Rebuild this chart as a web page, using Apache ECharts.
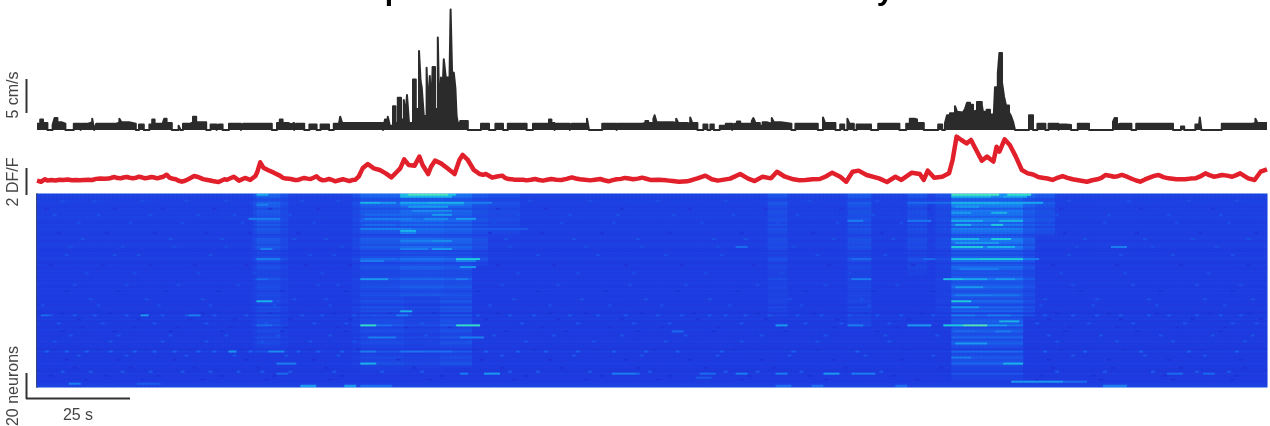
<!DOCTYPE html>
<html><head><meta charset="utf-8">
<style>html,body{margin:0;padding:0;background:#fff}#c{width:1270px;height:426px}#c canvas{filter:blur(.6px)}</style>
<script src="https://cdn.jsdelivr.net/npm/echarts@6/dist/echarts.min.js"></script>
</head><body><div id="c"></div>
<script>
// running speed, cm/s, held from each time (s) until the next
const speedPairs = [[0,.9],[.8,1.5],[1.5,1],[2.6,0],[3.9,.7],[4.4,1.7],[5.1,1.1],[6.1,.9],[7.1,0],[9.2,.9],[10.9,0],[11.2,.9],[12.8,1.1],[13.8,1.6],[14.3,0],[14.8,.9],[19.9,1.1],[20.6,1.6],[21.1,1.1],[23,.9],[24.7,0],[25.5,.8],[26.7,0],[28.1,.8],[28.8,1.5],[29.4,.9],[31.4,1.1],[31.8,1.6],[32.4,1],[33.7,0],[35.4,.6],[35.9,0],[36.5,.9],[38.3,1.1],[39,1.9],[39.8,1.1],[42.3,0],[43.4,.8],[44.9,0],[45.4,.8],[46.4,0],[48,.9],[51,0],[51.5,.9],[58.7,0],[60,1],[60.7,1.5],[61.4,1],[62.8,.8],[63.5,1],[64.3,0],[64.8,.9],[66.8,0],[68.1,.8],[69.9,0],[70.9,.8],[73,0],[74.2,.9],[75.5,1],[75.8,1.9],[76.3,1],[86.5,0],
[87,1.5],[87.7,1.9],[88.2,.6],[89,3.4],[89.6,1],[90.2,4.6],[91,1.5],[91.7,4.3],[92.1,2],[92.5,5],[93,1],[94,7.2],[94.7,3],[95.5,11.3],[95.9,7],[96.2,6],[96.7,2],[97.4,8.9],[97.7,3],[98.2,7.7],[98.6,3],[98.9,9],[99.5,3],[100.2,13.2],[100.6,2],[101,7.5],[101.2,3],[101.7,10.1],[102.2,7.5],[102.8,7.4],[103,3],[103.4,17.2],[103.8,7.5],[104.2,8.2],[104.6,6],[104.9,2],[105.2,1],[105.8,1.3],[107.7,0],
[111,.9],[113,0],[114.6,.9],[116.5,0],[117.7,.9],[122.4,0],[124,.9],[128,1.5],[128.6,1],[129.4,0],[129.8,.9],[133.2,0],[133.7,.9],[136.9,.9],[137.5,1.6],[138,0],[141.3,.9],[144.9,0],[145.2,.9],[151.3,1],[152.1,1.3],[152.8,1],[154.1,1.6],[154.4,2.1],[154.9,1.1],[159,1],[159.8,1.6],[160.3,1],[162.5,.9],[163.3,1.8],[163.8,1],[165.1,0],[166.6,.8],[167.6,0],[168.35,.8],[169.2,0],[170.7,.6],[172.2,.9],[173.8,0],[174.3,.9],[175,1.2],[175.8,.9],[178.7,1.3],[179.1,1.7],[179.6,1],[180.7,.6],[181.4,1.1],[182.4,.9],[183.7,1.7],[184.2,1.1],[186,.9],[188.6,0],[189.6,.9],[195.2,0],[196.5,1.8],[197,1],[199.6,0],[200.8,.8],[201.8,0],[202.6,1.6],[203.1,.9],[204.2,0],[204.9,.8],[208.5,0],[210.3,.9],[215.6,0],[217.3,.9],[218.2,1.6],[219.4,1.5],[220,1],[221.7,0],[225.3,.8],[226.3,0],
[227,1],[227.5,2.1],[228.25,2.4],[229.5,3.4],[230,2.6],[230.25,2.5],[231.5,2.4],[232,3],[232.5,3.9],[233.25,3.6],[234,2.6],[234.5,2.8],[235,4],[236.2,3.6],[236.5,2.6],[237.4,2.9],[238.25,2.2],[239.2,2.2],[239.5,6.1],[240.2,8.1],[240.6,11],[241.25,6.8],[241.75,4.8],[242.25,3.5],[243,2.5],[243.5,2],[244,1.2],[244.5,0],
[248,2.1],[249,0],[250.1,.9],[252.1,0],[252.9,.9],[255.4,0],[255.9,.8],[257.2,.7],[258.5,0],[260.2,.9],[263,0],[269,1.2],[269.4,1.7],[270,1],[270.5,.6],[270.7,.9],[273.6,0],[274.8,.9],[284,0],[286,.5],[286.8,0],[289.6,.8],[290.4,.2],[290.7,1.8],[291.1,0],[296.2,.9],[303.9,1],[304.6,1.6],[305.1,1],[307.5,1]];

// population DF/F trace, [time s, value]
const dffPairs = [[0,.99],[1,.91],[2,1.09],[3.1,.94],[4.1,1.09],[5.1,.94],[6.1,1.11],[7.1,1.01],[8.2,1.11],[9.2,.96],[10.2,1.09],[11.2,.96],[12.2,1.09],[13.3,.99],[14.3,1.16],[15.3,1.06],[16.3,1.21],[17.9,1.14],[19.4,1.26],[20.9,1.16],[22.4,1.26],[24,1.16],[25.5,1.28],[27,1.16],[28.6,1.26],[30.1,1.16],[31.6,1.28],[32.4,1.43],[33.2,1.19],[34.7,1.09],[36.2,.91],[37.8,1.09],[39.3,1.33],[40.8,1.19],[42.3,1.06],[43.9,.96],[45.4,.89],[46.9,1.09],[48,.99],[49.2,1.28],[50.5,.99],[52,1.19],[53.3,1.04],[54.6,1.33],[55.1,1.65],[55.8,2.35],[56.6,1.95],[57.7,1.78],[59.2,1.58],[60.7,1.36],[62.2,1.14],[63.8,1.09],[65.3,1.04],[66.8,1.19],[68.4,1.11],[69.9,1.31],[71.4,1.01],[73,1.11],[74.5,.94],[76.5,1.09],[78.1,.96],[79.6,1.06],[80.4,1.28],[81.4,1.9],[82.7,2.22],[84.2,1.9],[85.7,1.78],[87.2,1.53],[88.6,1.23],[90,1.65],[90.8,1.9],[91.8,2.57],[92.9,2.15],[94.4,2.1],[95.6,2.77],[96.4,2.15],[97.8,1.48],[98.5,2.02],[99.5,2.47],[101,2.27],[102.6,1.9],[104.4,1.48],[105.6,2.52],[106.4,2.89],[107.7,2.52],[109.2,1.78],[110.7,1.48],[112.2,1.48],[113.8,1.21],[116.3,1.36],[117.9,1.11],[119.4,1.06],[122.4,1.01],[124.5,1.11],[126.5,.99],[128.6,1.11],[131.1,1.04],[133.7,1.23],[135.7,1.09],[138.3,1.01],[140.8,1.11],[142.9,.94],[144.9,1.09],[147,1.19],[149,1.09],[151.3,1.21],[153.35,1.04],[157.4,1.01],[160.5,.91],[162.5,.94],[165.1,1.16],[167.1,1.36],[168.7,1.09],[170.2,.99],[173.3,1.14],[175.8,1.48],[177.8,1.14],[179.4,.96],[181.4,1.28],[183.5,1.16],[185,1.65],[187,1.28],[189.1,1.09],[192.1,1.04],[195.7,1.11],[198.8,1.58],[200.8,1.28],[202.3,.91],[203.9,1.65],[205.4,1.73],[207.4,1.41],[210.5,1.16],[212.5,.89],[214.6,1.28],[216.1,1.04],[218.7,1.58],[220.7,1.48],[221.7,1.04],[222.7,1.73],[224.3,1.21],[226.3,1.28],[228,1.53],[228.9,2.52],[229.9,4.25],[231.1,4],[232.4,3.75],[233.5,4],[234.8,3.26],[236.2,2.47],[237.5,2.77],[239.1,2.4],[239.9,3.5],[240.6,3.14],[241.9,4.05],[243.2,3.63],[244.7,2.77],[246.2,1.78],[247.7,1.53],[249.3,1.41],[251.3,1.21],[253.9,1.04],[256.4,1.33],[258.9,1.09],[262.5,.91],[265.1,1.09],[267.1,1.41],[269.2,1.28],[271.2,1.41],[273.8,1.11],[275.8,.91],[278.3,1.23],[280.4,1.41],[282.9,1.16],[287,1.09],[289.6,1.16],[292.1,1.53],[294.2,1.28],[296.2,1.41],[298.8,1.28],[300.8,1.53],[302.8,1.16],[304.4,1.04],[305.9,1.65],[307.5,1.83]];
// finer wiggles of the DF/F trace in its quiet stretches
const dffWiggles = [[.5,1.05],[1.5,1],[2.6,1],[3.6,1.03],[4.6,1],[5.6,1.05],[6.6,1.03],[7.7,1.08],[8.7,1.02],[9.7,1.04],[10.7,1.02],[11.7,1.04],[12.8,1.05],[13.8,1.04],[14.8,1.12],[15.8,1.15],[16.9,1.13],[18.6,1.2],[20.1,1.18],[21.6,1.22],[23.2,1.2],[24.7,1.2],[26.2,1.24],[27.8,1.2],[29.3,1.22],[30.8,1.22],[34,1.13],[35.4,.98],[37,.98],[38.5,1.2],[40,1.28],[41.5,1.1],[43,1.02],[44.6,.92],[46.2,1],[47.5,1.05],[61.5,1.2],[63,1.13],[64.5,1.03],[66,1.12],[67.6,1.14],[69.1,1.2],[70.6,1.12],[72.2,1.04],[73.7,1.05],[75.5,1.02],[77.3,1.03],[78.8,1.03],[111.5,1.42],[113,1.35],[115,1.3],[117,1.2],[118.6,1.1],[120.5,1.05],[121.5,1.06],[123.5,1.05],[125.5,1.04],[127.5,1.05],[129.8,1.06],[132.4,1.12],[134.7,1.15],[137,1.06],[139.5,1.06],[141.8,1.02],[143.9,1.03],[146,1.12],[148,1.15],[150.2,1.14],[152.3,1.13],[155.4,1.06],[158.9,.96],[161.5,.93],[163.8,1.04],[190.6,1.02],[193.9,1.09],[197.2,1.3],[248.5,1.48],[250.3,1.26],[252.6,1.15],[255.1,1.2],[257.6,1.2],[260.7,1],[263.8,1.02],[266.1,1.2],[268.2,1.35],[270.2,1.32],[272.5,1.28],[274.8,1],[277,1.08],[279.3,1.34],[281.6,1.25],[284.9,1.1],[288.3,1.14],[290.8,1.3],[293.1,1.4],[295.2,1.33],[297.5,1.36],[299.8,1.4]];

// heatmap: one resting level per neuron row
const rowLevels = [2.3,2.3,2.1,2.2,2.3,2.2,2.1,2.2,2.1,2.2,2.1,2.3,2.2,2.1,2,2.2,2.1,2.2,2.1,2.1,2,2.2,2.1,2,2.1,2.2,2.1,2,1.9,2.1,2,2.1,2.2,2,1.9,2.1,2,1.9,2.1,2,2.1,1.9,2.1,2,2.2,2,1.9,2.1,2,2.1,1.9,2,2.1,1.9,2,1.8,2.1,2,1.9,1.7,2.1,1.9,2.1,1.8,2.1,2,1.8,2.1,1.9,2,1.8,2,1.9,2.1,1.8,2,1.9,1.7,2.2,1.8,2,1.9,2,1.9,2.1,1.9,2,1.8,1.7,2.1,1.8,2,1.9,2,2.1,2.3];
// how strongly each row joins the vertical activity bands, 0-9
const rowBandWeights = [9,8,4,3,9,8,7,3,7,6,6,3,7,8,4,7,3,7,6,5,2,3,7,7,6,3,7,6,2,3,2,4,8,6,2,3,6,5,2,3,2,4,7,3,2,4,6,3,2,3,5,3,2,6,3,2,5,3,5,1,5,2,3,5,3,7,2,3,5,2,3,5,2,3,5,2,2,1,5,2,2,4,2,3,5,2,1,2,1,3,1,1,1,1,1,1];
// vertical activity bands: [from s, to s, first row, last row, level]
const heatBands = [[55,60,0,78,2.9],[54,55,0,78,2.5],[60,62,0,78,2.5],[81,91,0,88,3],[79.5,81,0,88,2.5],[91,101,0,50,3.4],[91,101,50,88,2.7],[101,108,0,85,3.2],[108,112,0,35,2.7],[112,120,0,20,2.5],[229.5,246,0,92,3.8],[246,249,0,60,3],[249,254,0,20,2.7],[225,229.5,0,60,2.5],[183,187,0,60,2.6],[203,208,0,65,2.7],[218,222,0,40,2.6]];
// bright horizontal dashes: [from s, to s, row, level]
const heatStreaks = [[93,102,0,9],[91,93,0,7],[102,104,0,7],[91,103,1,6.5],[55,57,0,6],[81,85,4,6.5],[85,89,4,5.5],[91,98,4,6],[98,106,4,6.5],[106,113,4,4.5],[91,106,5,4.5],[55,57,5,4.5],[93,102,6,5.5],[94,103,8,5],[82,93,10,3.8],[99,103,10,5.5],[53,60,12,4.5],[82,93,12,4.5],[97,102,12,5],[105,109,12,5.5],[82,89,15,3.8],[93,99,15,3.8],[81,93,17,4.5],[94,122,17,3.2],[91,94,18,6.5],[91,94,19,4.5],[91,100,23,4.5],[99,103,23,5],[91,97,27,4.5],[99,103,27,5.5],[56,58,27,4.5],[55.5,60,32,4.5],[81,89,32,3.8],[105,110,32,7.5],[81,86,33,4.5],[105,109,33,4.5],[106,109,36,5.5],[81,87,42,5.5],[105,107,42,4.5],[55,57,42,3.8],[55,58,53,6.5],[91,93,58,6.5],[26.5,27.5,60,5.5],[38,40,60,4.5],[1,2.5,60,3.8],[90,92,60,4.5],[81,84,65,8.5],[105,110,65,8.5],[84,88,65,4],[55,58,65,3.8],[83,89,71,4.5],[106,111,71,4.5],[58,61.5,78,5],[48.5,49.5,78,5.5],[81,84,78,4.5],[91,96,78,4.2],[97,103,78,4],[81,84,84,6.5],[60,64,84,4.5],[112,115,89,5.5],[106,107,89,4.5],[144,149,89,4.5],[60,62,89,3.8],[8,10,94,4.5],[25,30,94,3.2],[66,69,95,5.5],[77,79,95,5.5],[81,88,95,3.8],
[229.4,240,0,9],[243,248,0,8.5],[229.4,238,1,6.5],[242,247,1,6],[218.7,229.4,4,3.8],[229.4,240,4,6.5],[240,251,4,6],[230,235,6,5.5],[229.4,233,9,5.5],[239,242,9,6.5],[229.4,236,13,6.2],[238,240,13,4.5],[241,246,13,6.5],[203.5,206.5,13,4.5],[218,223,13,4.2],[230,233,15,6.5],[239,241,15,7.5],[230,235,17,4.5],[240.5,245,17,4.5],[229.4,235,22,6.5],[239.5,243.5,22,7.5],[230,240,24,5.5],[229.4,236,26,7.5],[236,238,26,4.5],[238,244,26,6.5],[175.3,177.3,26,3.8],[269.7,272,26,4.5],[229.4,236,32,7],[236,246,32,7.5],[246,250,32,4.5],[204,208.5,32,3.8],[222.7,224.3,32,3.8],[231,240,37,4.5],[227,231,42,7],[231,237,42,6],[240,244,42,5.5],[204.4,208.5,42,4.5],[230,236,46,5.5],[230,238,50,4.5],[239,245,50,4.2],[229,233.5,53,7.5],[229.4,235,56,5.5],[229.4,234,60,4.5],[238,243,60,4.5],[241,245,63,6.5],[227.3,232,65,7.5],[232,237,65,9.2],[237,242,65,5.5],[218.7,223.8,65,5.5],[185,187.5,65,5.5],[203.9,206.4,65,4.5],[230,234,68,3.8],[240.6,243,68,4.5],[159,161,68,3.8],[230,237,74,5.5],[229.4,233,81,4.5],[242,246,84,6.5],[148.25,150.3,89,3.8],[166,169.7,89,3.8],[175.3,177.3,89,4.5],[185,187,89,4.5],[197.7,200.3,89,5.5],[204.4,209.5,89,4.5],[283,286,89,3.8],[292,294,89,3.8],[165.6,168.7,91,3.2],[244,256.4,93,5.5],[256.4,262.5,93,3.8],[185.5,188.6,95,3.8],[194,196,95,3.8],[215.6,217.6,95,3.8],[267.6,272,95,4.5]];
// single speckles: [row, level, columns]
const heatSpeckles = [
 [60,3.2,[3,9,14,22,31,37,44,52,66,71,79,84,93,110,118,124,133,140,147,155,161,168,172,177,183,190,196,203,210,216,224,252,259,265,271,278,283,290,296,301]],
 [59,1.1,[6,18,26,41,58,74,88,99,115,128,137,151,164,180,194,207,221,255,268,280,293,303]],
 [64,3,[5,16,29,42,57,69,77,96,121,135,149,158,176,192,201,213,250,263,274,287,299,305]],
 [66,1.2,[11,24,35,48,62,75,92,103,126,143,156,170,186,199,215,258,270,285,297]],
 [70,2.9,[8,20,33,47,60,73,97,114,129,146,162,181,197,212,225,253,266,281,294,304]],
 [78,3.5,[2,7,12,18,24,29,34,40,44,53,65,70,76,112,120,127,135,144,152,160,171,189,205,252,262,276,288,300]],
 [77,1.2,[4,15,27,38,51,68,80,109,124,139,154,174,195,217,256,272,291]],
 [86,1.1,[9,23,39,55,72,94,116,131,150,167,184,202,226,254,269,286,302]],
 [88,3.1,[6,13,21,28,36,43,50,56,63,74,86,96,118,125,138,153,172,180,191,211,255,267,279,290,298]],
 [90,1,[3,17,30,46,59,76,101,122,141,158,178,193,214,251,264,282,300]],
 [30,2.7,[7,19,25,43,68,74,125,140,157,171,195,212,258,271,284,299]],
 [22,2.8,[11,33,46,64,72,117,134,150,169,177,199,214,262,277,289,303]],
 [10,2.8,[4,15,28,40,49,63,120,133,145,159,174,190,209,255,268,283,296]],
 [45,2.7,[9,22,35,50,70,75,116,130,148,162,180,197,215,259,274,290,301]],
 [52,2.8,[13,27,41,64,72,119,136,152,168,188,206,252,265,278,292,304]],
 [3,2.7,[6,14,26,37,47,66,75,123,138,155,172,193,210,258,273,288,300]],
 [7,1.4,[2,19,31,44,58,70,115,127,146,163,182,201,223,256,276,294]],
 [14,2.6,[10,23,36,51,69,114,131,144,166,185,200,216,253,267,285,298]],
 [19,1.4,[5,17,29,42,53,65,113,126,141,158,176,194,211,257,275,291,305]],
 [26,2.6,[8,21,34,47,62,76,118,137,151,170,189,205,260,279,295]],
 [35,1.3,[3,16,28,39,52,67,78,115,129,147,161,179,198,219,254,270,286,303]],
 [39,2.6,[12,24,40,54,71,120,135,149,167,186,203,256,272,293]],
 [48,1.3,[7,20,32,45,61,77,110,125,142,160,175,192,209,224,261,281,299]],
 [55,2.7,[1,15,30,43,59,73,113,128,143,156,173,191,208,251,264,280,297]],
 [62,1.2,[10,25,38,49,63,78,112,130,146,165,182,200,218,253,271,289,306]],
 [68,1.1,[6,19,33,46,61,77,117,132,150,169,187,210,257,275,296]],
 [73,3,[4,18,31,42,56,68,79,108,122,139,157,176,195,213,255,270,284,302]],
 [80,3,[10,22,37,49,62,75,116,134,151,170,188,207,224,259,277,292]],
 [82,1.1,[7,20,34,52,69,90,111,128,147,163,181,199,216,253,268,283,301]],
 [92,1.2,[12,26,41,57,73,98,119,137,155,176,197,220,250,266,284,299]]
];
const timeMax = 307.5, colCount = 308;

const speedData = speedPairs.map(p => [p[0], p[1]]);
const dffData = dffPairs.concat(dffWiggles).sort((a, b) => a[0] - b[0]);
const matrix = rowLevels.map(l => new Array(colCount).fill(l));
const raise = (r, c, v) => { if (matrix[r] && c >= 0 && c < colCount && matrix[r][c] < v) matrix[r][c] = v; };
heatBands.forEach(([a, b, r0, r1, v]) => { for (let r = r0; r <= r1; r++) for (let c = Math.floor(a); c <= Math.floor(b); c++) raise(r, c, rowLevels[r] + (v - 2.2) * rowBandWeights[r] / 5); });
heatSpeckles.forEach(([r, v, cols]) => cols.forEach(c => { if (v < 2) matrix[r][c] = v; else raise(r, c, v); }));
heatStreaks.forEach(([a, b, r, v]) => { for (let c = Math.floor(a); c <= Math.floor(b); c++) raise(r, c, v); });
const heatData = [];
matrix.forEach((row, r) => row.forEach((v, c) => heatData.push([c, r, v])));

const ink = '#444444';
const bar = (x1, y1, x2, y2) => ({ type: 'line', shape: { x1, y1, x2, y2 }, style: { stroke: '#333', lineWidth: 2 } });
const vtext = (t, cy) => ({ type: 'text', x: 14, y: cy, rotation: Math.PI / 2, style: { text: t, fill: ink, font: '16px "Liberation Sans"', align: 'center', verticalAlign: 'middle' } });
const clipped = (t, x) => ({ type: 'text', x, y: 7, style: { text: t, fill: '#000', font: 'bold 30px "Liberation Sans"', align: 'center', verticalAlign: 'bottom' } });

const chart = echarts.init(document.getElementById('c'), null, { renderer: 'canvas' });
chart.setOption({
  animation: false,
  backgroundColor: '#fff',
  grid: [
    { left: 37, width: 1230, top: 5, height: 125 },
    { left: 37, width: 1230, top: 131, height: 63 },
    { left: 37, width: 1230, top: 194, height: 193, show: true, borderColor: '#8fb0f0', borderWidth: 1.5, backgroundColor: '#1e3ce0' }
  ],
  xAxis: [
    { gridIndex: 0, type: 'value', min: 0, max: timeMax, show: false },
    { gridIndex: 1, type: 'value', min: 0, max: timeMax, show: false },
    { gridIndex: 2, type: 'category', data: matrix[0].map((_, i) => i), show: false }
  ],
  yAxis: [
    { gridIndex: 0, type: 'value', min: 0, max: 125 / 7, show: false },
    { gridIndex: 1, type: 'value', min: 0, max: 63 / 13.5, show: false },
    { gridIndex: 2, type: 'category', inverse: true, data: rowLevels.map((_, i) => i),
      axisLine: { show: true, lineStyle: { color: '#222', width: 1.5 } }, axisTick: { show: false }, axisLabel: { show: false }, splitLine: { show: false } }
  ],
  visualMap: { show: false, seriesIndex: 2, min: 0, max: 10, inRange: { color: ['#1a28c4', '#1e3ce0', '#1a70f0', '#18a8f0', '#20d8d8', '#70f0a0'] } },
  series: [
    { type: 'line', xAxisIndex: 0, yAxisIndex: 0, data: speedData, step: 'end', smooth: false, showSymbol: false, clip: false,
      lineStyle: { color: '#2b2b2b', width: 2, join: 'round', cap: 'butt' }, areaStyle: { color: '#2b2b2b', opacity: 1 } },
    { type: 'line', xAxisIndex: 1, yAxisIndex: 1, data: dffData, smooth: false, showSymbol: false, clip: false,
      lineStyle: { color: '#e2202b', width: 4.5, join: 'round' } },
    { type: 'heatmap', xAxisIndex: 2, yAxisIndex: 2, data: heatData, progressive: 0, itemStyle: { borderWidth: 0 }, emphasis: { disabled: true } }
  ],
  graphic: [
    bar(26.5, 79, 26.5, 113), bar(26.5, 168, 26.5, 195), bar(26.5, 373, 26.5, 399), bar(26, 398.5, 130, 398.5),
    vtext('5 cm/s', 95), vtext('2 DF/F', 182), vtext('20 neurons', 386),
    { type: 'text', x: 78, y: 416, style: { text: '25 s', fill: ink, font: '16px "Liberation Sans"', align: 'center', verticalAlign: 'middle' } },
    clipped('p', 394), clipped('y', 885)
  ]
});
</script></body></html>
